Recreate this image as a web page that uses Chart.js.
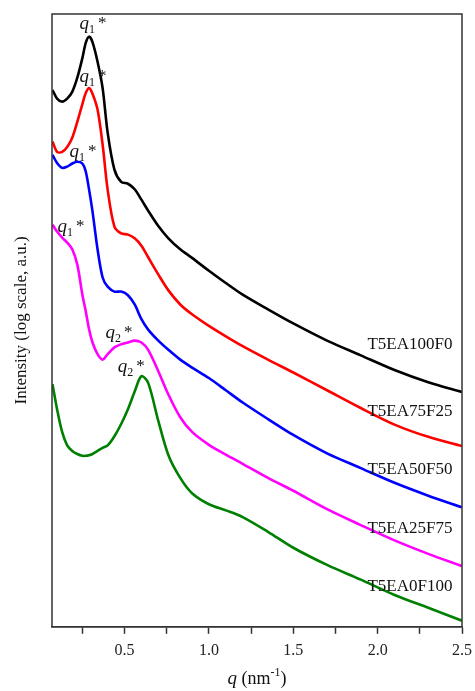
<!DOCTYPE html>
<html>
<head>
<meta charset="utf-8">
<script src="https://cdn.jsdelivr.net/npm/chart.js@4/dist/chart.umd.min.js"></script>
<style>
  html, body { margin: 0; padding: 0; background: #fff; }
  canvas { display: block; }
</style>
</head>
<body>
<canvas id="saxsChart" width="475" height="691"></canvas>
<script>
// q grid (nm^-1), shared by every curve
const qValues = [0.073, 0.10, 0.13, 0.16, 0.19, 0.22, 0.25, 0.27, 0.29, 0.31, 0.34, 0.37, 0.40, 0.44,
  0.48, 0.52, 0.56, 0.60, 0.64, 0.70, 0.76, 0.83, 0.90, 1.0, 1.1, 1.2, 1.35, 1.5, 1.7, 1.9, 2.1, 2.3, 2.5];

// log intensity, shifted for display (arbitrary units)
const t5ea100f0 = [87.6, 86.2, 85.7, 86.2, 87.3, 89.6, 92.8, 95.3, 96.3, 95.4, 92.2, 87.9, 80.6, 74.6,
  72.6, 72.3, 71.4, 69.7, 67.9, 65.4, 63.4, 61.6, 60.2, 58.1, 56.1, 54.2, 51.8, 49.5, 46.7, 44.3, 41.9, 39.9, 38.3];
const t5ea75f25 = [79.2, 77.5, 77.5, 78.3, 79.8, 82.4, 85.3, 87.1, 87.9, 87.0, 84.4, 78.7, 71.3, 65.3,
  64.2, 64.0, 63.4, 62.2, 60.3, 57.5, 54.9, 52.6, 51.0, 49.1, 47.4, 45.8, 43.6, 41.5, 38.6, 35.7, 33.0, 31.0, 29.5];
const t5ea50f50 = [77.0, 75.7, 74.9, 75.1, 75.6, 75.9, 75.6, 74.3, 71.3, 67.8, 61.6, 57.0, 55.5, 54.7,
  54.7, 54.1, 52.6, 50.2, 48.5, 46.7, 45.2, 43.6, 42.3, 40.6, 38.6, 36.6, 33.9, 31.3, 28.3, 25.9, 23.5, 21.4, 19.5];
const t5ea25f75 = [65.6, 64.5, 63.5, 62.7, 61.6, 59.1, 54.2, 51.5, 48.5, 46.4, 44.5, 43.6, 44.5, 45.6,
  46.1, 46.4, 46.7, 46.4, 45.2, 41.7, 37.9, 34.2, 31.8, 29.7, 28.1, 26.6, 24.3, 22.2, 19.2, 16.6, 14.1, 11.9, 9.9];
const t5ea0f100 = [39.6, 35.5, 31.8, 29.6, 28.7, 28.2, 27.9, 27.9, 28.0, 28.2, 28.7, 29.2, 29.6, 31.1,
  33.1, 35.5, 38.4, 40.9, 39.8, 33.6, 28.0, 24.3, 21.8, 20.0, 19.0, 17.9, 15.5, 12.9, 10.1, 7.7, 5.2, 3.1, 1.0];

const seriesNames  = ['T5EA100F0', 'T5EA75F25', 'T5EA50F50', 'T5EA25F75', 'T5EA0F100'];
const seriesValues = [t5ea100f0, t5ea75f25, t5ea50f50, t5ea25f75, t5ea0f100];
const seriesColors = ['#000000', '#ff0000', '#0000ff', '#ff00ff', '#008000'];

// curve labels on the right: [q, intensity]
const labelPos = [[2.443, 46.1], [2.443, 35.2], [2.443, 25.7], [2.443, 16.0], [2.443, 6.5]];

// peak markers: [subscript, q, intensity]
const peakMarks = [['1', 0.233, 97.6], ['1', 0.233, 88.9], ['1', 0.174, 76.7],
  ['1', 0.103, 64.5], ['2', 0.387, 47.2], ['2', 0.459, 41.5]];

const SERIF = '"Liberation Serif", "DejaVu Serif", serif';

const decorations = {
  id: 'decorations',
  afterDraw(chart) {
    const { ctx, chartArea: a, scales: { x, y } } = chart;
    ctx.save();

    // frame
    ctx.strokeStyle = '#333';
    ctx.lineWidth = 1.5;
    ctx.strokeRect(a.left, a.top, a.right - a.left, a.bottom - a.top);

    // curve names
    ctx.fillStyle = '#111';
    ctx.font = '17px ' + SERIF;
    ctx.textAlign = 'right';
    ctx.textBaseline = 'middle';
    labelPos.forEach((p, i) => {
      ctx.fillText(seriesNames[i], x.getPixelForValue(p[0]), y.getPixelForValue(p[1]));
    });

    // q1*, q2* markers
    ctx.textAlign = 'left';
    ctx.textBaseline = 'alphabetic';
    peakMarks.forEach(m => {
      let px = x.getPixelForValue(m[1]);
      const py = y.getPixelForValue(m[2]);
      ctx.font = 'italic 19px ' + SERIF;
      ctx.fillText('q', px, py);
      px += ctx.measureText('q').width;
      ctx.font = '12px ' + SERIF;
      ctx.fillText(m[0], px, py + 4);
      px += ctx.measureText(m[0]).width + 3;
      ctx.font = '17px ' + SERIF;
      ctx.fillText('*', px, py - 1);
    });

    // x title: q (nm-1)
    const ty = a.bottom + 57;
    const parts = [
      ['italic 19px ' + SERIF, 'q', 0],
      ['18px ' + SERIF, ' (nm', 0],
      ['12px ' + SERIF, '-1', -8],
      ['18px ' + SERIF, ')', 0]
    ];
    let w = 0;
    parts.forEach(p => { ctx.font = p[0]; w += ctx.measureText(p[1]).width; });
    let tx = (a.left + a.right) / 2 - w / 2;
    parts.forEach(p => {
      ctx.font = p[0];
      ctx.fillText(p[1], tx, ty + p[2]);
      tx += ctx.measureText(p[1]).width;
    });

    // y title
    ctx.translate(22, (a.top + a.bottom) / 2);
    ctx.rotate(-Math.PI / 2);
    ctx.textAlign = 'center';
    ctx.textBaseline = 'middle';
    ctx.font = '17px ' + SERIF;
    ctx.fillText('Intensity (log scale, a.u.)', 0, 0);

    ctx.restore();
  }
};

new Chart(document.getElementById('saxsChart'), {
  type: 'line',
  data: {
    datasets: seriesValues.map((vals, i) => ({
      label: seriesNames[i],
      data: vals.map((v, j) => ({ x: qValues[j], y: v })),
      borderColor: seriesColors[i],
      borderWidth: 2.6,
      pointRadius: 0,
      fill: false,
      tension: 0.3
    }))
  },
  options: {
    responsive: false,
    animation: false,
    layout: { padding: { left: 52, right: 13, top: 14, bottom: 24 } },
    plugins: { legend: { display: false }, tooltip: { enabled: false } },
    scales: {
      x: {
        type: 'linear',
        min: 0.07,
        max: 2.5,
        afterFit: s => { s.paddingRight = 0; s.paddingLeft = 0; },
        border: { display: true, color: '#333', width: 1.5 },
        grid: { drawOnChartArea: false, drawTicks: true, tickLength: 7, tickWidth: 1.5, tickColor: '#333' },
        ticks: {
          stepSize: 0.25,
          includeBounds: false,
          autoSkip: false,
          maxRotation: 0,
          padding: 7,
          color: '#222',
          font: { family: SERIF, size: 16 },
          callback: v => (Math.abs(v * 2 - Math.round(v * 2)) < 1e-6 ? v.toFixed(1) : '')
        }
      },
      y: {
        display: false,
        min: 0,
        max: 100
      }
    }
  },
  plugins: [decorations]
});
</script>
</body>
</html>
